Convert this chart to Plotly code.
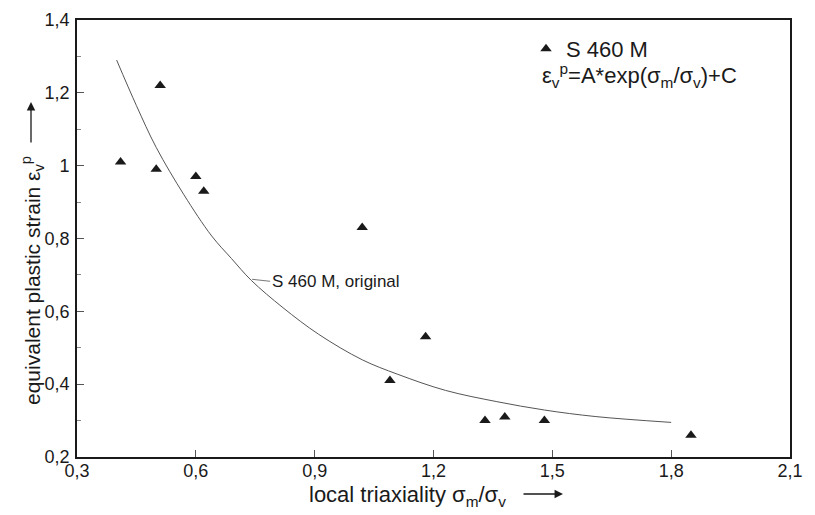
import plotly.graph_objects as go

# ---- data ----
triax = [0.41, 0.51, 0.50, 0.60, 0.62, 1.02, 1.09, 1.18, 1.33, 1.38, 1.48, 1.85]
strain = [1.01, 1.22, 0.99, 0.97, 0.93, 0.83, 0.41, 0.53, 0.30, 0.31, 0.30, 0.26]

fit_x = [0.40, 0.45, 0.50, 0.57, 0.64, 0.69, 0.74, 0.82, 0.91, 1.02, 1.11, 1.23, 1.36, 1.48, 1.61, 1.80]
fit_y = [1.29, 1.165, 1.05, 0.92, 0.807, 0.745, 0.685, 0.61, 0.537, 0.467, 0.427, 0.383, 0.352, 0.329, 0.311, 0.295]

x_ticks = [0.3, 0.6, 0.9, 1.2, 1.5, 1.8, 2.1]
x_tick_labels = ["0,3", "0,6", "0,9", "1,2", "1,5", "1,8", "2,1"]
y_ticks = [0.2, 0.4, 0.6, 0.8, 1.0, 1.2, 1.4]
y_tick_labels = ["0,2", "0,4", "0,6", "0,8", "1", "1,2", "1,4"]

FONT = "Liberation Sans, Arial, Helvetica, sans-serif"
INK = "#1a1a1a"

# desired on-screen plot-area geometry (pixels); page body adds an 8 px offset
PAGE_OFF = 8
L, R, T, B = 77, 790, 20, 457
def px(x):
    return (x - L) / (R - L)
def py(y):
    return (B - y) / (B - T)

fig = go.Figure()
fig.add_trace(go.Scatter(
    x=fit_x, y=fit_y, mode="lines", line=dict(color="#555555", width=1, shape="spline"),
    showlegend=False, name="S 460 M, original"))
fig.add_trace(go.Scatter(
    x=triax, y=strain, mode="markers", name="S 460 M",
    marker=dict(symbol="triangle-up", size=10, color=INK)))

axis_common = dict(
    showgrid=False, zeroline=False, showline=True, mirror=True, automargin=False,
    linecolor=INK, linewidth=1.6, ticks="inside", ticklen=7, tickwidth=1,
    tickcolor="#555555", ticklabeloverflow="allow",
    tickfont=dict(family=FONT, size=18, color=INK))

fig.update_xaxes(
    range=[0.3, 2.1], tickmode="array", tickvals=x_ticks, ticktext=x_tick_labels,
    ticklabelstandoff=-3, **axis_common)
fig.update_yaxes(
    range=[0.2, 1.4], tickmode="array", tickvals=y_ticks, ticktext=y_tick_labels,
    ticklabelstandoff=2,
    minor=dict(dtick=0.1, ticks="inside", ticklen=4, tickcolor="#888888"),
    **axis_common)

# axis titles
fig.add_annotation(
    x=px(307), y=py(496), xref="paper", yref="paper",
    text="local triaxiality σ<sub>m</sub>/σ<sub>v</sub>", showarrow=False,
    xanchor="left", yanchor="middle", font=dict(family=FONT, size=22, color=INK))
fig.add_annotation(
    x=px(32), y=py(281), xref="paper", yref="paper", textangle=-90,
    text="equivalent plastic strain ε<sub>v</sub><sup>p</sup>", showarrow=False,
    xanchor="center", yanchor="middle", font=dict(family=FONT, size=21, color=INK))

# axis-title arrows
fig.add_annotation(x=px(563), y=py(494), xref="paper", yref="paper",
                   text="", showarrow=True, arrowhead=2, arrowsize=1.3, arrowwidth=1.3,
                   arrowcolor=INK, ax=-41, ay=0)
fig.add_annotation(x=px(31), y=py(102), xref="paper", yref="paper",
                   text="", showarrow=True, arrowhead=2, arrowsize=1.3, arrowwidth=1.3,
                   arrowcolor=INK, ax=0, ay=42)

# curve label
fig.add_annotation(
    x=0.742, y=0.688, xref="x", yref="y", text="S 460 M, original",
    showarrow=True, arrowhead=0, arrowwidth=0.8, arrowcolor="#555555",
    ax=18, ay=2, xanchor="left", font=dict(family=FONT, size=17, color=INK))

# fit formula under the legend
fig.add_annotation(
    x=px(540), y=py(75), xref="paper", yref="paper",
    text="ε<sub>v</sub><sup>p</sup>=A*exp(σ<sub>m</sub>/σ<sub>v</sub>)+C",
    showarrow=False, xanchor="left", yanchor="middle",
    font=dict(family=FONT, size=22, color=INK))

fig.update_layout(
    width=815, height=515,
    margin=dict(l=L - PAGE_OFF, r=815 - R + PAGE_OFF, t=T - PAGE_OFF, b=515 - B + PAGE_OFF),
    paper_bgcolor="white", plot_bgcolor="white",
    font=dict(family=FONT, color=INK),
    legend=dict(x=px(526), y=py(49), xanchor="left", yanchor="middle",
                bgcolor="rgba(0,0,0,0)", font=dict(family=FONT, size=22, color=INK),
                itemwidth=30),
)

fig.write_html("out.html")
